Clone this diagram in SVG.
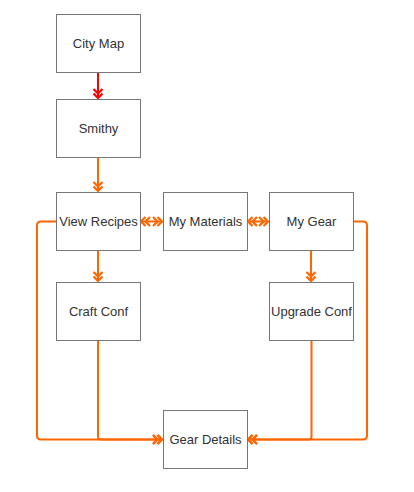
<svg xmlns="http://www.w3.org/2000/svg" width="414" height="492" viewBox="0 0 414 492">
<style>
.box{fill:#fff;stroke:#777;stroke-width:1}
.lbl{font-family:"Liberation Sans",Arial,sans-serif;font-size:13px;fill:#333;text-anchor:middle;dominant-baseline:central}
.c{fill:none;stroke:#FF6600;stroke-width:2}
.red{stroke:#FF0000}
</style>
<defs>
<marker id="ao" markerUnits="userSpaceOnUse" markerWidth="16" markerHeight="16" viewBox="-12 -8 16 16" refX="1" refY="0" orient="auto-start-reverse">
<path d="M-3.5,-4.5 L1,0 L-3.5,4.5 M-8,-4.5 L-3.5,0 L-8,4.5" fill="none" stroke="#FF6600" stroke-width="2.2"/>
</marker>
<marker id="ar" markerUnits="userSpaceOnUse" markerWidth="16" markerHeight="16" viewBox="-12 -8 16 16" refX="1" refY="0" orient="auto">
<path d="M-3.5,-4.5 L1,0 L-3.5,4.5 M-8,-4.5 L-3.5,0 L-8,4.5" fill="none" stroke="#FF0000" stroke-width="2.2"/>
</marker>
</defs>
<g id="connectors">
<path class="c red" d="M98,73 V98" marker-end="url(#ar)"/>
<path class="c" d="M98,158 V191" marker-end="url(#ao)"/>
<path class="c" d="M141,221.5 H162" marker-start="url(#ao)" marker-end="url(#ao)"/>
<path class="c" d="M248,221.5 H268" marker-start="url(#ao)" marker-end="url(#ao)"/>
<path class="c" d="M98,251 V281" marker-end="url(#ao)"/>
<path class="c" d="M311,251 V281" marker-end="url(#ao)"/>
<path class="c" d="M56,221.5 H41 Q37,221.5 37,225.5 V435.5 Q37,439.5 41,439.5 H162" marker-end="url(#ao)"/>
<path class="c" d="M98,341 V436.5 Q98,439.5 101,439.5 H162" marker-end="url(#ao)"/>
<path class="c" d="M353,221.5 H363 Q367,221.5 367,225.5 V435.5 Q367,439.5 363,439.5 H248" marker-end="url(#ao)"/>
<path class="c" d="M311.5,341 V436.5 Q311.5,439.5 308.5,439.5 H248" marker-end="url(#ao)"/>
</g>
<g id="city-map"><rect class="box" x="56.5" y="14.5" width="84" height="58"/><text class="lbl" x="98.5" y="43.5">City Map</text></g>
<g id="smithy"><rect class="box" x="56.5" y="99.5" width="84" height="58"/><text class="lbl" x="98.5" y="128.5">Smithy</text></g>
<g id="view-recipes"><rect class="box" x="56.5" y="192.5" width="84" height="58"/><text class="lbl" x="98.5" y="221.5">View Recipes</text></g>
<g id="my-materials"><rect class="box" x="163.5" y="192.5" width="84" height="58"/><text class="lbl" x="205.5" y="221.5">My Materials</text></g>
<g id="my-gear"><rect class="box" x="269.5" y="192.5" width="84" height="58"/><text class="lbl" x="311.5" y="221.5">My Gear</text></g>
<g id="craft-conf"><rect class="box" x="56.5" y="282.5" width="84" height="58"/><text class="lbl" x="98.5" y="311.5">Craft Conf</text></g>
<g id="upgrade-conf"><rect class="box" x="269.5" y="282.5" width="84" height="58"/><text class="lbl" x="311.5" y="311.5">Upgrade Conf</text></g>
<g id="gear-details"><rect class="box" x="163.5" y="410.5" width="84" height="58"/><text class="lbl" x="205.5" y="439.5">Gear Details</text></g>
</svg>
